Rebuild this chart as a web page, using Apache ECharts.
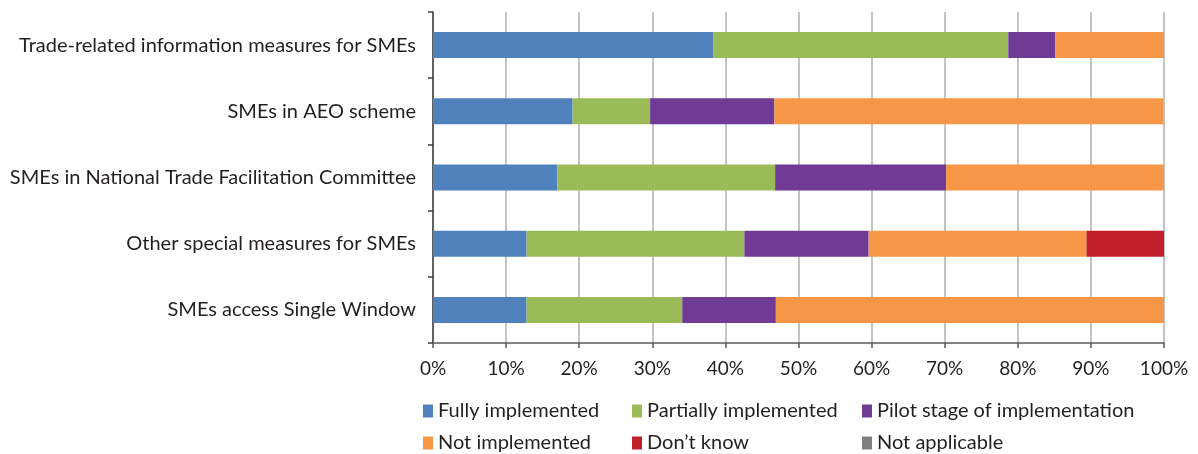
<!DOCTYPE html>
<html><head><meta charset="utf-8">
<script src="https://cdn.jsdelivr.net/npm/echarts@6/dist/echarts.min.js"></script>
<style>html,body{margin:0;padding:0;background:#fff}#c{width:1198px;height:454px}</style>
</head><body><div id="c"></div>
<script>
const categories = [
  "Trade-related information measures for SMEs",
  "SMEs in AEO scheme",
  "SMEs in National Trade Facilitation Committee",
  "Other special measures for SMEs",
  "SMEs access Single Window"
];
const fullyImplemented   = [38.3, 19.1, 17.0, 12.8, 12.8];
const partiallyImplemented = [40.4, 10.6, 29.8, 29.8, 21.3];
const pilotStage         = [6.4, 17.0, 23.4, 17.0, 12.8];
const notImplemented     = [14.9, 53.2, 29.8, 29.8, 53.1];
const dontKnow           = [0, 0, 0, 10.6, 0];
const notApplicable      = [0, 0, 0, 0, 0];
const xTicks = [0,10,20,30,40,50,60,70,80,90,100];

const FONT = "Lato";
const TXT = '#231f20';
const seriesDefs = [
  ["Fully implemented", fullyImplemented, "#4f81bd"],
  ["Partially implemented", partiallyImplemented, "#9bbb59"],
  ["Pilot stage of implementation", pilotStage, "#6f3b94"],
  ["Not implemented", notImplemented, "#f79646"],
  ["Don\u2019t know", dontKnow, "#c0202a"],
  ["Not applicable", notApplicable, "#7f7f7f"]
];
const legendPos = [[423,401],[632,401],[862,401],[423,433],[632,433],[862,433]];
const chart = echarts.init(document.getElementById('c'));
chart.setOption({
  animation: false,
  textStyle: {fontFamily: FONT},
  grid: {left: 433, right: 34, top: 12, bottom: 111, containLabel: false},
  legend: seriesDefs.map((s, i) => ({
    left: legendPos[i][0], top: legendPos[i][1], orient: 'horizontal',
    padding: 0, itemWidth: 10, itemHeight: 13, icon: 'rect',
    selectedMode: false,
    textStyle: {fontFamily: FONT, fontSize: 20, color: TXT},
    data: [s[0]]
  })),
  xAxis: {
    type: 'value', min: 0, max: 100, interval: 10,
    axisLine: {show: true, lineStyle: {color: '#595959', width: 1.5}},
    axisTick: {show: true, length: 5, lineStyle: {color: '#595959', width: 1.5}},
    splitLine: {show: true, lineStyle: {color: '#b0b0b0', width: 1.5}},
    axisLabel: {formatter: v => v + '%', fontFamily: FONT, fontSize: 19, color: TXT, margin: 16}
  },
  yAxis: {
    type: 'category', inverse: true, data: categories,
    axisLine: {show: true, lineStyle: {color: '#404040', width: 1.5}},
    axisTick: {show: true, length: 5, lineStyle: {color: '#404040', width: 1.5}},
    axisLabel: {fontFamily: FONT, fontSize: 20, color: TXT, margin: 17}
  },
  series: seriesDefs.map(([name, data, color]) => ({
    name, type: 'bar', stack: 'total', data, barWidth: 26,
    itemStyle: {color}, emphasis: {disabled: true}
  }))
});
</script></body></html>
